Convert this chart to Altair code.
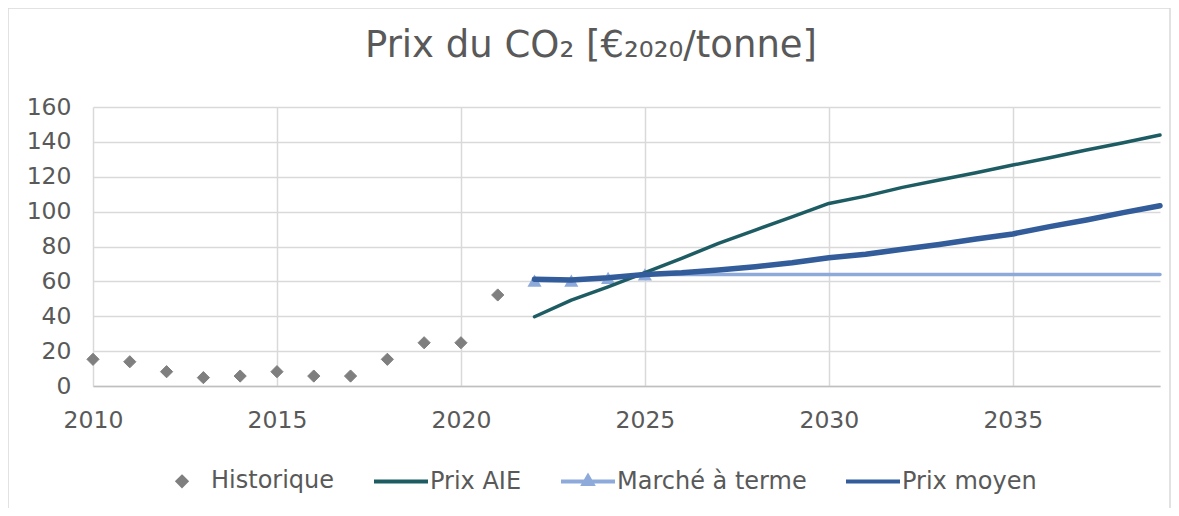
import altair as alt
import pandas as pd

# ---------------- data ----------------
hist_years = list(range(2010, 2022))
hist_vals = [15.3, 13.9, 8.2, 4.8, 5.7, 8.2, 5.7, 5.7, 15.3, 24.8, 24.8, 52.2]

proj_years = list(range(2022, 2040))
aie_vals = [39.7, 49.3, 56.9, 65.0, 73.2, 81.8, 89.4, 97.0, 104.7, 108.9,
            113.9, 118.1, 122.3, 126.7, 130.9, 135.3, 139.5, 143.9]
marche_vals = [60.5, 60.5, 62.0, 64.0, 64.0, 64.0, 64.0, 64.0, 64.0, 64.0,
               64.0, 64.0, 64.0, 64.0, 64.0, 64.0, 64.0, 64.0]
moyen_vals = [61.2, 60.8, 62.1, 64.0, 65.0, 66.5, 68.4, 70.7, 73.6, 75.5,
              78.4, 81.2, 84.3, 87.2, 91.4, 95.2, 99.4, 103.4]
marche_marker_years = [2022, 2023, 2024, 2025]

series_names = ["Historique", "Prix AIE", "Marché à terme", "Prix moyen"]
series_colors = ["#7f7f7f", "#1e5c63", "#8eaadb", "#335c9a"]

title_text = ["Prix du CO₂ [€₂₀₂₀/tonne]"]
x_ticks = [2010, 2015, 2020, 2025, 2030, 2035]
y_ticks = [0, 20, 40, 60, 80, 100, 120, 140, 160]

# ---------------- tables ----------------
hist_df = pd.DataFrame({"year": hist_years, "value": hist_vals, "series": "Historique"})
aie_df = pd.DataFrame({"year": proj_years, "value": aie_vals, "series": "Prix AIE"})
marche_df = pd.DataFrame({"year": proj_years, "value": marche_vals, "series": "Marché à terme"})
moyen_df = pd.DataFrame({"year": proj_years, "value": moyen_vals, "series": "Prix moyen"})
marche_pts = marche_df[marche_df["year"].isin(marche_marker_years)]

diamond = "M0,-0.16L0.16,0L0,0.16L-0.16,0Z"
line_sym = "M-1,0H1"
tri_line = "M-1,0H1M-0.16,0.09L0,-0.185L0.16,0.09Z"
shape_range = [diamond, line_sym, tri_line, line_sym]

x_enc = alt.X("year:Q", scale=alt.Scale(domain=[2010, 2039], nice=False, zero=False),
              axis=alt.Axis(values=x_ticks, format="d", title=None, grid=True,
                            ticks=False, labelPadding=22, domain=True, labelFlush=False))
y_enc = alt.Y("value:Q", scale=alt.Scale(domain=[0, 160], nice=False),
              axis=alt.Axis(values=y_ticks, title=None, grid=True, ticks=False,
                            labelPadding=22, domain=False, labelFlush=False))

color_scale = alt.Scale(domain=series_names, range=series_colors)
leg = alt.Legend(title=None, orient="none", direction="horizontal",
                 legendX=60, legendY=345, columns=4)

hist_layer = alt.Chart(hist_df).mark_point(filled=True, size=5800, strokeWidth=1, opacity=1).encode(
    x=x_enc, y=y_enc,
    fill=alt.Fill("series:N", scale=color_scale, legend=leg),
    stroke=alt.Stroke("series:N", scale=color_scale, legend=leg),
    shape=alt.Shape("series:N", scale=alt.Scale(domain=series_names, range=shape_range), legend=leg),
)

def line_layer(df, col, width):
    return alt.Chart(df).mark_line(color=col, strokeWidth=width, strokeCap="round",
                                   strokeJoin="round").encode(x=x_enc, y=y_enc)

marche_line = line_layer(marche_df, series_colors[2], 3.5)
marche_marks = alt.Chart(marche_pts).mark_point(
    shape="triangle-up", filled=True, size=200, opacity=1, color=series_colors[2]
).encode(x=x_enc, y=y_enc)
aie_line = line_layer(aie_df, series_colors[1], 3.5)
moyen_line = line_layer(moyen_df, series_colors[3], 5.5)

border = alt.Chart(alt.Data(values=[{"b": 1}])).mark_rect(
    fill="transparent", stroke="#d9d9d9", strokeWidth=1.5
).encode(x=alt.value(-85), x2=alt.value(1077), y=alt.value(-99), y2=alt.value(420))

title = alt.Chart(pd.DataFrame({"t": title_text})).mark_text(
    font="DejaVu Sans", fontSize=37, color="#595959", align="center", baseline="alphabetic"
).encode(text="t:N", x=alt.value(498), y=alt.value(-50))

chart = alt.layer(border, title, marche_line, marche_marks, aie_line, moyen_line, hist_layer).properties(
    width=1067, height=279,
    autosize=alt.AutoSizeParams(type="none"),
    padding={"left": 85, "top": 99, "right": 11, "bottom": 122},
).configure_view(stroke=None).configure_axis(
    labelFont="DejaVu Sans", labelFontSize=23.5, labelColor="#595959",
    gridColor="#d9d9d9", gridWidth=1.5, domainColor="#bfbfbf", domainWidth=1.5,
).configure_legend(
    labelFont="DejaVu Sans", labelFontSize=24, labelColor="#595959", labelLimit=0,
    symbolSize=2916, symbolStrokeWidth=4, columnPadding=31, labelOffset=0,
    symbolOpacity=1,
)

chart.save("out.html", embed_options={"renderer": "svg", "actions": False})
